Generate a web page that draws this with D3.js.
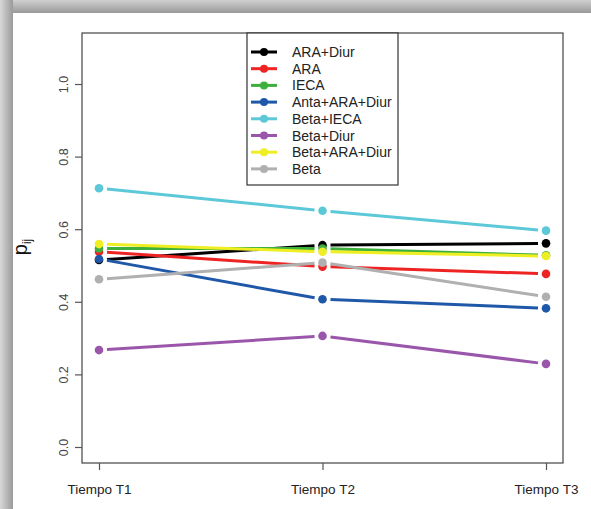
<!DOCTYPE html>
<html><head><meta charset="utf-8">
<script src="https://cdn.jsdelivr.net/npm/d3@7"></script>
<style>html,body{margin:0;padding:0;background:#fff;}svg{display:block;font-family:"Liberation Sans",Arial,sans-serif;}</style>
</head><body><svg id="c" width="591" height="509"></svg>
<script>
const times = ["Tiempo T1","Tiempo T2","Tiempo T3"];
const seriesNames = ["ARA+Diur","ARA","IECA","Anta+ARA+Diur","Beta+IECA","Beta+Diur","Beta+ARA+Diur","Beta"];
const seriesColors = ["#000000","#ee2424","#3daf3d","#1f58a8","#5cc8d8","#9a56aa","#eeee22","#b0b0b0"];
const araDiur   = [0.515, 0.556, 0.561];
const ara       = [0.538, 0.497, 0.477];
const ieca      = [0.547, 0.547, 0.528];
const antaAraDiur = [0.518, 0.407, 0.382];
const betaIeca  = [0.713, 0.651, 0.596];
const betaDiur  = [0.267, 0.306, 0.229];
const betaAraDiur = [0.559, 0.538, 0.526];
const beta      = [0.462, 0.508, 0.414];
const seriesValues = [araDiur, ara, ieca, antaAraDiur, betaIeca, betaDiur, betaAraDiur, beta];
const yTicks = [0, 0.2, 0.4, 0.6, 0.8, 1.0];

const svg = d3.select("#c");
// shadow frame
const defs = svg.append("defs");
const gl = defs.append("linearGradient").attr("id","gl").attr("x1","0").attr("x2","1").attr("y1","0").attr("y2","0");
gl.append("stop").attr("offset","0").attr("stop-color","#d8d8d8");
gl.append("stop").attr("offset","1").attr("stop-color","#9a9a9a");
const gt = defs.append("linearGradient").attr("id","gt").attr("x1","0").attr("x2","0").attr("y1","0").attr("y2","1");
gt.append("stop").attr("offset","0").attr("stop-color","#d0d0d0");
gt.append("stop").attr("offset","1").attr("stop-color","#999999");
svg.append("rect").attr("x",0).attr("y",0).attr("width",591).attr("height",13).attr("fill","url(#gt)");
svg.append("rect").attr("x",0).attr("y",0).attr("width",13).attr("height",509).attr("fill","url(#gl)");
svg.append("rect").attr("x",13).attr("y",13).attr("width",578).attr("height",496).attr("fill","#fff");

const L = 82, R = 563, T = 33, B = 463;
const x = d3.scalePoint().domain(times).range([99, 546]);
const y = d3.scaleLinear().domain([0, 1]).range([447, 84]);

// box
svg.append("rect").attr("x",L).attr("y",T).attr("width",R-L).attr("height",B-T)
  .attr("fill","none").attr("stroke","#444").attr("stroke-width",1.2);

// y axis
const ya = svg.append("g").attr("transform",`translate(${L},0)`)
  .call(d3.axisLeft(y).tickValues(yTicks).tickFormat(d3.format(".1f")).tickSize(7).tickSizeOuter(0));
ya.select(".domain").remove();
ya.selectAll(".tick line").attr("stroke","#555").attr("stroke-width",1.2);
ya.selectAll(".tick text").attr("transform","rotate(-90)").attr("x",0).attr("y",-14)
  .attr("dy","0").attr("text-anchor","middle").attr("font-size",12.5).attr("fill","#444")
  .style("font-family","'Liberation Sans',Arial,sans-serif");

// x axis
const xa = svg.append("g").attr("transform",`translate(0,${B})`)
  .call(d3.axisBottom(x).tickSize(7).tickSizeOuter(0));
xa.select(".domain").remove();
xa.selectAll(".tick line").attr("stroke","#555").attr("stroke-width",1.2);
xa.selectAll(".tick text").attr("y",21).attr("dy","0.71em").attr("font-size",13.5).attr("fill","#222")
  .style("font-family","'Liberation Sans',Arial,sans-serif");

// y label
const yl = svg.append("text").attr("transform","translate(27,247) rotate(-90)")
  .attr("text-anchor","middle").attr("fill","#111");
yl.append("tspan").attr("font-size",20).text("p");
yl.append("tspan").attr("font-size",12).attr("dy",4).text("ij");

// series
const gap = 8;
seriesValues.forEach((vals, i) => {
  const g = svg.append("g");
  const pts = vals.map((v, j) => [x(times[j]), y(v)]);
  for (let j = 0; j < pts.length - 1; j++) {
    const [x0, y0] = pts[j], [x1, y1] = pts[j+1];
    const dx = x1 - x0, dy = y1 - y0, len = Math.hypot(dx, dy);
    const ux = dx/len, uy = dy/len;
    g.append("line").attr("x1", x0 + ux*gap).attr("y1", y0 + uy*gap)
      .attr("x2", x1 - ux*gap).attr("y2", y1 - uy*gap)
      .attr("stroke", seriesColors[i]).attr("stroke-width", 3);
  }
  g.selectAll("circle").data(vals).join("circle")
    .attr("cx", (d, j) => x(times[j])).attr("cy", d => y(d)).attr("r", 4.3)
    .attr("fill", seriesColors[i]);
});

// legend
const lg = svg.append("g");
lg.append("rect").attr("x",247).attr("y",33).attr("width",151).attr("height",152)
  .attr("fill","#fff").attr("stroke","#333").attr("stroke-width",1.2);
seriesNames.forEach((n, i) => {
  const yy = 52 + i*16.7;
  lg.append("line").attr("x1",251).attr("x2",277).attr("y1",yy).attr("y2",yy)
    .attr("stroke",seriesColors[i]).attr("stroke-width",3);
  lg.append("circle").attr("cx",264).attr("cy",yy).attr("r",4).attr("fill",seriesColors[i]);
  lg.append("text").attr("x",292).attr("y",yy).attr("dy","0.36em").attr("font-size",14)
    .attr("fill","#222").text(n);
});
</script></body></html>
